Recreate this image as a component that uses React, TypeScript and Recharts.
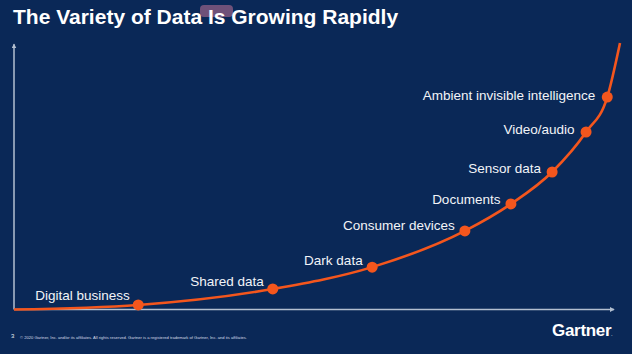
import React from 'react';
import { ComposedChart, Line, XAxis, YAxis, ReferenceLine, LabelList } from 'recharts';

// stages along the growth curve
const STAGES = [
  'Digital business',
  'Shared data',
  'Dark data',
  'Consumer devices',
  'Documents',
  'Sensor data',
  'Video/audio',
  'Ambient invisible intelligence',
];
const STAGE_X = [20.5, 42.7, 59.1, 74.4, 82.0, 88.8, 94.4, 97.9];
const STAGE_Y = [1.7, 7.7, 15.9, 29.5, 39.6, 51.6, 66.6, 79.7];
const CURVE_START = { x: 0, y: 0 };
const CURVE_END = { x: 100, y: 100 };
const AXIS_X_END = 99;
const AXIS_Y_END = 99.5;

const TITLE = 'The Variety of Data Is Growing Rapidly';
const FOOTNOTE = '\u00A9 2020 Gartner, Inc. and/or its affiliates. All rights reserved. Gartner is a registered trademark of Gartner, Inc. and its affiliates.';

const BG = '#0a2857';
const ORANGE = '#f4561d';
const AXIS = '#b3bfd0';
const FONT = '"Liberation Sans", Arial, sans-serif';

const data = [
  { ...CURVE_START, label: null as string | null },
  ...STAGES.map((label, i) => ({ x: STAGE_X[i], y: STAGE_Y[i], label })),
  { ...CURVE_END, label: null as string | null },
];

function StageDot(props: any) {
  const { cx, cy, payload } = props;
  if (!payload?.label) return <g key={props.index} />;
  return <circle key={props.index} cx={cx} cy={cy} r={5.5} fill={ORANGE} />;
}

function StageLabel(props: any) {
  const { x, y, value, index } = props;
  if (!value) return null;
  const k = index - 1;
  // labels sit left of the dot, dropping lower where the curve gets steep
  const dy = -4.5 + k * 1.1;
  const dx = -8.5 - k * 0.5;
  return (
    <text x={x + dx} y={y + dy} textAnchor="end" fill="#f2f4f8" fontSize={13.5} fontFamily={FONT}>
      {value}
    </text>
  );
}

export default function App() {
  return (
    <div style={{ position: 'absolute', left: 0, top: 0, width: 632, height: 354, background: BG, overflow: 'hidden', fontFamily: FONT }}>
      <div style={{ position: 'absolute', left: 200, top: 5, width: 33, height: 12, borderRadius: 4, background: 'rgba(235,130,165,0.45)' }} />
      <div style={{ position: 'absolute', left: 13, top: 5, color: '#fff', fontWeight: 700, fontSize: 21, whiteSpace: 'nowrap' }}>
        {TITLE}
      </div>
      <ComposedChart
        width={632}
        height={354}
        data={data}
        margin={{ top: 43, right: 12, bottom: 44.5, left: 14 }}
        style={{ position: 'absolute', left: 0, top: 0 }}
      >
        <defs>
          <marker id="axisArrow" viewBox="0 0 6 6" refX="5" refY="3" markerWidth="5" markerHeight="5" markerUnits="userSpaceOnUse" orient="auto">
            <path d="M0,0 L6,3 L0,6 z" fill={AXIS} />
          </marker>
        </defs>
        <XAxis dataKey="x" type="number" domain={[0, 100]} hide />
        <YAxis type="number" domain={[0, 100]} hide />
        <ReferenceLine
          segment={[{ x: 0, y: 0 }, { x: 0, y: AXIS_Y_END }]}
          stroke={AXIS}
          strokeWidth={1.5}
          markerEnd="url(#axisArrow)"
        />
        <ReferenceLine
          segment={[{ x: 0, y: 0 }, { x: AXIS_X_END, y: 0 }]}
          stroke={AXIS}
          strokeWidth={1.5}
          markerEnd="url(#axisArrow)"
        />
        <Line
          type="monotone"
          dataKey="y"
          stroke={ORANGE}
          strokeWidth={2.6}
          dot={StageDot}
          activeDot={false}
          isAnimationActive={false}
        >
          <LabelList dataKey="label" content={StageLabel} />
        </Line>
      </ComposedChart>
      <div style={{ position: 'absolute', left: 11, top: 333, color: '#e8ecf2', fontSize: 6 }}>3</div>
      <div style={{ position: 'absolute', left: 20, top: 335, color: '#d8dee8', fontSize: 4.1, whiteSpace: 'nowrap' }}>
        {FOOTNOTE}
      </div>
      <div style={{ position: 'absolute', left: 552, top: 321, color: '#fff', fontWeight: 700, fontSize: 17, letterSpacing: -0.3 }}>
        Gartner<span style={{ fontSize: 4 }}>.</span>
      </div>
    </div>
  );
}
